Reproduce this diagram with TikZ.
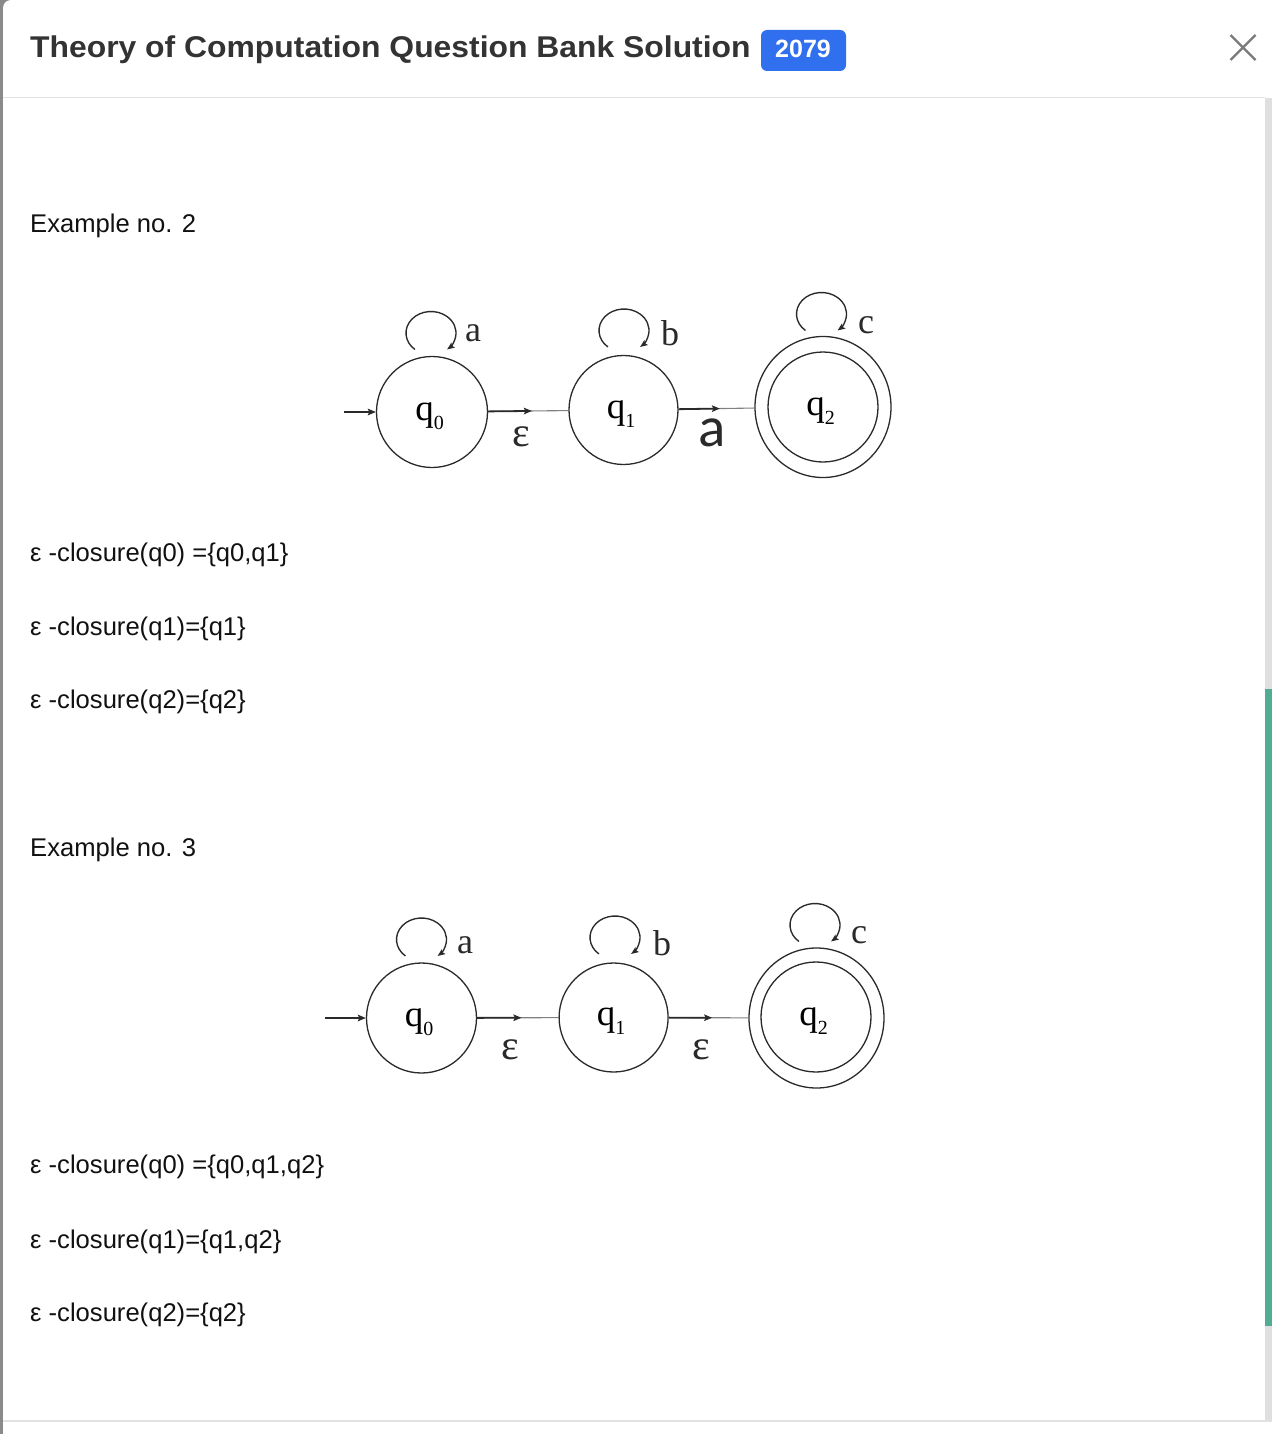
\documentclass[tikz,border=0pt]{standalone}
\usepackage{fontspec}
\setmainfont{Liberation Sans}
\newfontfamily\serifr{Liberation Serif}
\newfontfamily\carl{Carlito}
\usetikzlibrary{arrows.meta,shapes.geometric}
\definecolor{titlec}{HTML}{333333}
\definecolor{badgec}{HTML}{3070EF}
\definecolor{thumbc}{HTML}{52AB93}
\definecolor{trackc}{HTML}{DFDFDF}
\definecolor{sepc}{HTML}{E2E2E2}
\definecolor{inkc}{HTML}{2A2A2A}
\definecolor{xgray}{HTML}{7A7A7A}
\definecolor{edgeg}{HTML}{8A8A8A}
\definecolor{bodyc}{HTML}{111111}
\definecolor{thinc}{HTML}{808080}
\newcommand{\qsub}[1]{q\raisebox{-9pt}{\fontsize{20}{20}\selectfont #1}\kern5pt}
\tikzset{
  stateq/.style={circle, draw=inkc, line width=1.3pt, inner sep=0pt,
    font=\serifr\fontsize{37}{37}\selectfont, text height=16.5pt, text depth=0pt},
  outerq/.style={ellipse, draw=inkc, line width=1.3pt, inner sep=0pt},
  tip/.style={-{Stealth[length=8pt,width=6.5pt,inset=1.5pt]}},
  darkarr/.style={tip, draw=inkc, line width=1.8pt},
  thinline/.style={draw=thinc, line width=1.1pt},
  looptip/.style={-{Stealth[length=7.5pt,width=6pt,inset=1.5pt]}},
  loopst/.style={looptip, draw=inkc, line width=1.35pt},
  symlab/.style={anchor=base, inner sep=0pt, text=inkc, font=\serifr\fontsize{36}{36}\selectfont},
  epslab/.style={anchor=base, inner sep=0pt, text=inkc, font=\serifr\fontsize{42}{42}\selectfont},
  bigalab/.style={anchor=base, inner sep=0pt, text=inkc, font=\carl\fontsize{57}{57}\selectfont},
  bodytext/.style={anchor=base west, inner sep=0pt, text=bodyc, font=\fontsize{25.6}{25.6}\selectfont},
}
\begin{document}
\begin{tikzpicture}[x=1pt,y=1pt]
\useasboundingbox (0,0) rectangle (1272,-1434);
% page chrome
\fill[edgeg] (0,0) rectangle (12,-1434);
\fill[white] (3,-1434) -- (3,-8) arc[start angle=180,end angle=90,radius=8] -- (1272,0) -- (1272,-1434) -- cycle;
\fill[sepc] (3,-96.8) rectangle (1265,-98.2);
\fill[sepc] (3,-1420.3) rectangle (1272,-1421.7);
\fill[trackc] (1265,-98) rectangle (1272,-1420.3);
\fill[thumbc] (1265,-689) rectangle (1272,-1326);
% header
\node[anchor=base west, inner sep=0pt, text=titlec, font=\bfseries\fontsize{30}{30}\selectfont] (title) at (30,-58)
  {\scalebox{1.062}[1]{Theory of Computation Question Bank Solution}};
\node[fill=badgec, rounded corners=6pt, minimum width=85pt, minimum height=41pt, inner sep=0pt] (badge) at (803.5,-50.5) {};
\node[anchor=base, inner sep=0pt, text=white, font=\bfseries\fontsize{25}{25}\selectfont] (badgetxt) at (803,-58) {2079};
\coordinate (xa) at (1230.5,-35);
\coordinate (xb) at (1255.5,-60);
\coordinate (xc) at (1230.5,-60);
\coordinate (xd) at (1255.5,-35);
\draw[xgray, line width=2.4pt] (xa) -- (xb);
\draw[xgray, line width=2.4pt] (xc) -- (xd);
% texts
\node[bodytext] (ex2) at (30,-232) {Example no. 2};
\node[bodytext] (c20) at (30,-561) {ε -closure(q0) =\{q0,q1\}};
\node[bodytext] (c21) at (30,-635) {ε -closure(q1)=\{q1\}};
\node[bodytext] (c22) at (30,-708) {ε -closure(q2)=\{q2\}};
\node[bodytext] (ex3) at (30,-856) {Example no. 3};
\node[bodytext] (c30) at (30,-1173) {ε -closure(q0) =\{q0,q1,q2\}};
\node[bodytext] (c31) at (30,-1248) {ε -closure(q1)=\{q1,q2\}};
\node[bodytext] (c32) at (30,-1321) {ε -closure(q2)=\{q2\}};
% ---------- Example 2 automaton
\node[stateq, minimum size=111pt] (a0) at (432,-412) {\qsub{0}};
\node[stateq, minimum size=109pt] (a1) at (623.5,-410) {\qsub{1}};
\node[outerq, minimum width=136pt, minimum height=141pt] (a2o) at (823,-407) {};
\node[stateq, minimum size=110pt] (a2) at (823,-407) {\qsub{2}};
\coordinate (a_in) at (344,-412);
\draw[darkarr] (a_in) -- (a0);
\path (a0) -- (a1) coordinate[pos=0.545] (am01);
\path (a1) -- (a2o) coordinate[pos=0.545] (am12);
\draw[thinline] (a0) -- (a1);
\draw[darkarr] (a0) -- (am01);
\draw[thinline] (a1) -- (a2o);
\draw[darkarr] (a1) -- (am12);
\coordinate (aL0) at (431,-333);
\coordinate (aL1) at (624,-330.5);
\coordinate (aL2) at (821.5,-314);
\draw[loopst] ([shift={(230:25 and 21.5)}]aL0) arc[start angle=230,end angle=-50,x radius=25,y radius=21.5];
\draw[loopst] ([shift={(230:25 and 21.5)}]aL1) arc[start angle=230,end angle=-50,x radius=25,y radius=21.5];
\draw[loopst] ([shift={(230:25 and 21.5)}]aL2) arc[start angle=230,end angle=-50,x radius=25,y radius=21.5];
\node[symlab] (aLa) at (473,-341.7) {a};
\node[symlab] (aLb) at (670,-345.5) {b};
\node[symlab] (aLc) at (866,-333) {c};
\node[epslab] (aE) at (521,-446.7) {ε};
\node[bigalab] (aA) at (712,-446.7) {a};
% ---------- Example 3 automaton
\node[stateq, minimum size=110pt] (b0) at (421.5,-1018) {\qsub{0}};
\node[stateq, minimum size=109pt] (b1) at (613.6,-1017.5) {\qsub{1}};
\node[outerq, minimum width=135pt, minimum height=140pt] (b2o) at (816.5,-1018) {};
\node[stateq, minimum size=110pt] (b2) at (816,-1017) {\qsub{2}};
\coordinate (b_in) at (325,-1018);
\draw[darkarr] (b_in) -- (b0);
\path (b0) -- (b1) coordinate[pos=0.545] (bm01);
\path (b1) -- (b2o) coordinate[pos=0.545] (bm12);
\draw[thinline] (b0) -- (b1);
\draw[darkarr] (b0) -- (bm01);
\draw[thinline] (b1) -- (b2o);
\draw[darkarr] (b1) -- (bm12);
\coordinate (bL0) at (421.5,-939.5);
\coordinate (bL1) at (615,-937.5);
\coordinate (bL2) at (815,-925);
\draw[loopst] ([shift={(230:25 and 21.5)}]bL0) arc[start angle=230,end angle=-50,x radius=25,y radius=21.5];
\draw[loopst] ([shift={(230:25 and 21.5)}]bL1) arc[start angle=230,end angle=-50,x radius=25,y radius=21.5];
\draw[loopst] ([shift={(230:25 and 21.5)}]bL2) arc[start angle=230,end angle=-50,x radius=25,y radius=21.5];
\node[symlab] (bLa) at (465,-953) {a};
\node[symlab] (bLb) at (662,-955.5) {b};
\node[symlab] (bLc) at (859,-943) {c};
\node[epslab] (bE1) at (510,-1059) {ε};
\node[epslab] (bE2) at (701,-1059) {ε};
\end{tikzpicture}
\end{document}
